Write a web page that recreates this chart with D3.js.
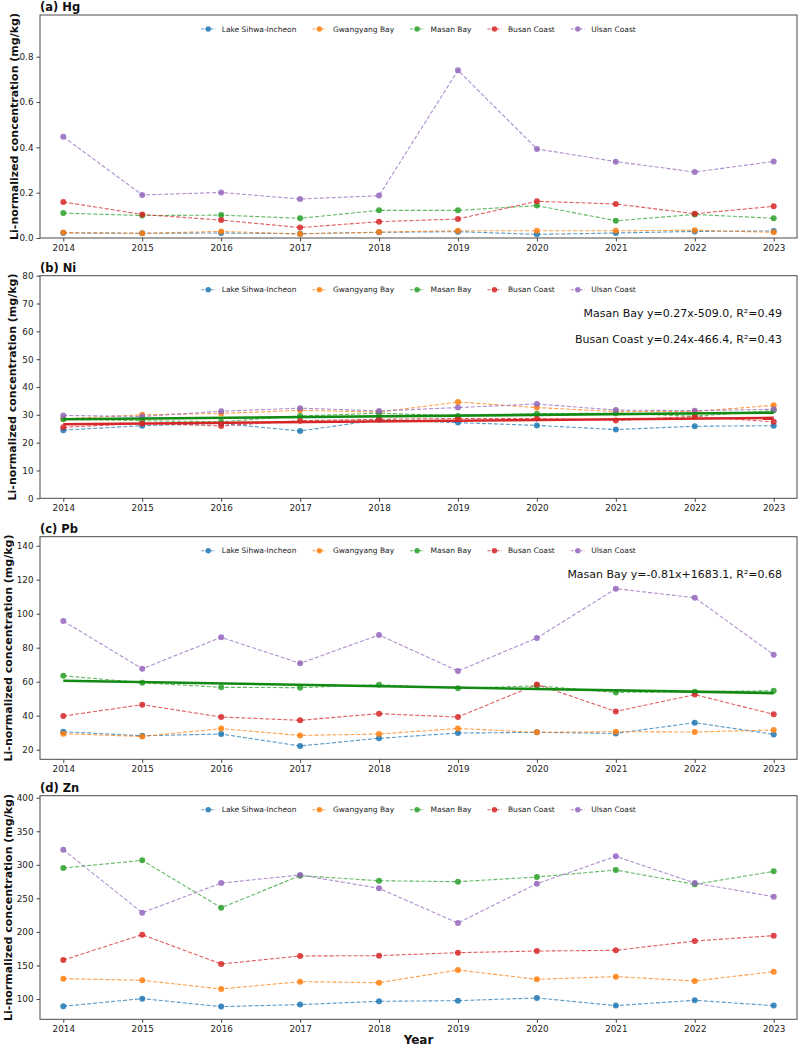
<!DOCTYPE html>
<html>
<head>
<meta charset="utf-8">
<script src="https://cdn.jsdelivr.net/npm/d3@7"></script>
<style>
  body { margin: 0; background: #fff; }
  svg { display: block; font-family: "DejaVu Sans", sans-serif; }
</style>
</head>
<body>
<svg id="chart" width="800" height="1055"></svg>
<script>
// ---------------- DATA ----------------
const years = [2014, 2015, 2016, 2017, 2018, 2019, 2020, 2021, 2022, 2023];
const sites = ["Lake Sihwa-Incheon", "Gwangyang Bay", "Masan Bay", "Busan Coast", "Ulsan Coast"];
const siteColors = ["#1f77b4", "#ff7f0e", "#2ca02c", "#d62728", "#9467bd"];

// Hg (per site, in the order of `sites`)
const hgData = [
  [0.022, 0.021, 0.022, 0.019, 0.025, 0.028, 0.016, 0.022, 0.029, 0.031],
  [0.024, 0.021, 0.029, 0.018, 0.026, 0.032, 0.032, 0.032, 0.034, 0.025],
  [0.110, 0.099, 0.101, 0.087, 0.122, 0.122, 0.143, 0.076, 0.104, 0.087],
  [0.159, 0.104, 0.079, 0.046, 0.072, 0.084, 0.162, 0.150, 0.107, 0.140],
  [0.447, 0.190, 0.201, 0.172, 0.187, 0.740, 0.393, 0.337, 0.291, 0.338]
];
// Ni
const niData = [
  [24.5, 26.1, 26.9, 24.2, 28.2, 27.2, 26.2, 24.7, 25.9, 26.1],
  [28.6, 30.0, 30.5, 31.6, 31.0, 34.6, 32.6, 31.2, 31.2, 33.4],
  [28.4, 27.9, 27.5, 29.6, 30.6, 29.6, 30.4, 30.6, 29.5, 31.6],
  [25.5, 26.9, 26.0, 27.9, 28.4, 28.7, 28.7, 28.0, 29.4, 27.5],
  [29.8, 29.4, 31.3, 32.4, 31.4, 32.6, 33.9, 31.7, 31.5, 32.0]
];
// Pb
const pbData = [
  [30.6, 28.2, 29.2, 22.2, 26.7, 29.8, 30.2, 29.6, 35.9, 29.0],
  [29.4, 27.8, 32.4, 28.4, 29.2, 32.5, 30.2, 30.6, 30.4, 31.6],
  [63.5, 59.4, 56.7, 56.5, 58.2, 56.1, 57.6, 53.7, 54.1, 54.7],
  [39.8, 46.5, 39.2, 37.3, 41.2, 39.2, 58.4, 42.5, 52.4, 40.8],
  [95.7, 67.6, 86.1, 70.8, 87.5, 66.3, 85.7, 114.7, 109.4, 75.9]
];
// Zn
const znData = [
  [89.1, 100.5, 88.6, 91.6, 96.5, 97.5, 101.5, 90.1, 98.0, 90.1],
  [130.3, 127.8, 114.9, 125.8, 124.3, 143.2, 129.3, 133.3, 126.8, 140.7],
  [295.2, 306.6, 236.1, 283.8, 276.3, 274.8, 281.8, 292.2, 270.9, 290.2],
  [158.1, 195.9, 152.1, 164.1, 164.6, 169.0, 171.5, 172.5, 186.4, 194.4],
  [322.5, 228.6, 272.8, 284.8, 264.9, 213.2, 271.9, 312.6, 272.8, 252.5]
];

// Trend lines: value at first and last year
const niTrendMasan = [28.4, 30.8];
const niTrendBusan = [26.6, 28.9];
const pbTrendMasan = [60.6, 53.3];
const niTrendLabels = ["Masan Bay y=0.27x-509.0, R\u00b2=0.49", "Busan Coast y=0.24x-466.4, R\u00b2=0.43"];
const pbTrendLabels = ["Masan Bay y=-0.81x+1683.1, R\u00b2=0.68"];

const panelTitles = ["(a) Hg", "(b) Ni", "(c) Pb", "(d) Zn"];
const hgTicks = [0, 0.2, 0.4, 0.6, 0.8];
const niTicks = [0, 10, 20, 30, 40, 50, 60, 70, 80];
const pbTicks = [20, 40, 60, 80, 100, 120, 140];
const znTicks = [100, 150, 200, 250, 300, 350, 400];
const yLabel = "Li-normalized concentration (mg/kg)";
const xLabel = "Year";

// ---------------- LAYOUT ----------------
const svg = d3.select("#chart");
const left = 40, right = 797;
const panels = [
  { title: panelTitles[0], data: hgData, ticks: hgTicks, domain: [0, 0.984], top: 15, bottom: 238, fmt: d3.format(".1f"),
    trends: [], labels: [], labelX: 14 },
  { title: panelTitles[1], data: niData, ticks: niTicks, domain: [0, 80], top: 275.7, bottom: 498.3, fmt: d3.format("d"),
    trends: [{ v: niTrendMasan, color: "#138a13" }, { v: niTrendBusan, color: "#d62728" }], labels: niTrendLabels, labelX: 12.5 },
  { title: panelTitles[2], data: pbData, ticks: pbTicks, domain: [14.35, 145.3], top: 536.7, bottom: 759.3, fmt: d3.format("d"),
    trends: [{ v: pbTrendMasan, color: "#138a13" }], labels: pbTrendLabels, labelX: 8.5 },
  { title: panelTitles[3], data: znData, ticks: znTicks, domain: [69.7, 403], top: 795.7, bottom: 1019.3, fmt: d3.format("d"),
    trends: [], labels: [], labelX: 8.5 }
];

const x = d3.scaleLinear().domain([2013.705, 2023.295]).range([left, right]);

panels.forEach((p, pi) => {
  const y = d3.scaleLinear().domain(p.domain).range([p.bottom, p.top]);
  const g = svg.append("g");

  // series
  const line = d3.line().x((d, i) => x(years[i])).y(d => y(d));
  p.data.forEach((vals, si) => {
    g.append("path")
      .attr("d", line(vals))
      .attr("fill", "none")
      .attr("stroke", siteColors[si])
      .attr("stroke-width", 1.1)
      .attr("stroke-dasharray", "4,2")
      .attr("opacity", 0.75);
    g.selectAll(null).data(vals).enter().append("circle")
      .attr("cx", (d, i) => x(years[i]))
      .attr("cy", d => y(d))
      .attr("r", 3)
      .attr("fill", siteColors[si])
      .attr("opacity", 0.85);
  });

  // trends
  p.trends.forEach(t => {
    g.append("line")
      .attr("x1", x(years[0])).attr("x2", x(years[years.length - 1]))
      .attr("y1", y(t.v[0])).attr("y2", y(t.v[1]))
      .attr("stroke", t.color).attr("stroke-width", 2.6);
  });

  // trend labels
  p.labels.forEach((lab, li) => {
    g.append("text")
      .attr("x", 782).attr("y", p.top + 41 + li * 26.5)
      .attr("text-anchor", "end")
      .attr("font-size", 11).attr("fill", "#111")
      .text(lab);
  });

  // frame
  g.append("rect")
    .attr("x", left).attr("y", p.top)
    .attr("width", right - left).attr("height", p.bottom - p.top)
    .attr("fill", "none").attr("stroke", "#4a4a4a").attr("stroke-width", 1);

  // axes
  const xa = g.append("g").attr("transform", `translate(0,${p.bottom})`)
    .call(d3.axisBottom(x).tickValues(years).tickFormat(d3.format("d")).tickSize(3.5).tickPadding(3));
  const ya = g.append("g").attr("transform", `translate(${left},0)`)
    .call(d3.axisLeft(y).tickValues(p.ticks).tickFormat(p.fmt).tickSize(3.5).tickPadding(3));
  [xa, ya].forEach(a => {
    a.select(".domain").remove();
    a.selectAll("line").attr("stroke", "#444");
    a.selectAll("text").attr("font-size", 8.8).attr("font-family", "DejaVu Sans").attr("fill", "#222");
  });

  // title
  g.append("text")
    .attr("x", left).attr("y", p.top - 4)
    .attr("font-size", 11.5).attr("font-weight", "bold").attr("fill", "#111")
    .text(p.title);

  // y label
  g.append("text")
    .attr("transform", `translate(${p.labelX},${(p.top + p.bottom) / 2}) rotate(-90)`)
    .attr("text-anchor", "middle")
    .attr("dy", "0.35em")
    .attr("font-size", 11).attr("font-weight", "bold").attr("fill", "#111")
    .text(yLabel);

  // legend
  const lg = g.append("g");
  let cx = 0;
  sites.forEach((s, si) => {
    const it = lg.append("g").attr("transform", `translate(${cx},0)`);
    it.append("line").attr("x1", 0).attr("x2", 14).attr("y1", 0).attr("y2", 0)
      .attr("stroke", siteColors[si]).attr("stroke-width", 1.1).attr("stroke-dasharray", "3,1.5").attr("opacity", 0.75);
    it.append("circle").attr("cx", 7).attr("cy", 0).attr("r", 2.7).attr("fill", siteColors[si]).attr("opacity", 0.85);
    const tx = it.append("text").attr("x", 20.5).attr("y", 2.6)
      .attr("font-size", 7.5).attr("fill", "#222").text(s);
    cx += 20.5 + tx.node().getComputedTextLength() + 16;
  });
  const totalW = cx - 16;
  lg.attr("transform", `translate(${(left + right) / 2 - totalW / 2},${p.top + 14})`);
});

// x label
svg.append("text")
  .attr("x", 418.5).attr("y", 1043.5)
  .attr("text-anchor", "middle")
  .attr("font-size", 12).attr("font-weight", "bold").attr("fill", "#111")
  .text(xLabel);
</script>
</body>
</html>
